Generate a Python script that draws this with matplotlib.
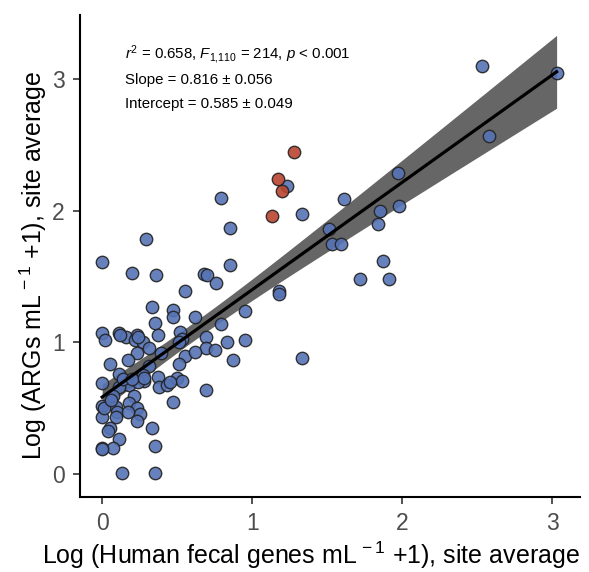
import numpy as np
import matplotlib.pyplot as plt

plt.rcParams['font.family'] = ['Liberation Sans', 'DejaVu Sans']
plt.rcParams['mathtext.fontset'] = 'custom'
plt.rcParams['mathtext.rm'] = 'Liberation Sans'
plt.rcParams['mathtext.it'] = 'Liberation Sans:italic'

# site averages, blue sites
x_blue = [3.03, 2.53, 2.58, 1.97, 1.98, 1.85, 1.84, 1.87, 1.91, 1.72,
          1.61, 1.51, 1.53, 1.59, 1.33, 1.23, 0.79, 0.85, 0.85, 0.68,
          0.70, 0.76, 1.18, 1.18, 0.95, 0.79, 0.69, 0.83, 0.95, 0.69,
          0.75, 0.87, 1.33, 0.29, 0.00, 0.20, 0.36, 0.55, 0.33, 0.47,
          0.47, 0.35, 0.62, 0.37, 0.00, 0.02, 0.11, 0.16, 0.23, 0.22,
          0.27, 0.52, 0.53, 0.51, 0.31, 0.39, 0.23, 0.55, 0.62, 0.05,
          0.17, 0.31, 0.51, 0.11, 0.00, 0.18, 0.18, 0.27, 0.28, 0.24,
          0.37, 0.38, 0.43, 0.50, 0.53, 0.69, 0.11, 0.07, 0.21, 0.00,
          0.09, 0.10, 0.18, 0.23, 0.25, 0.17, 0.23, 0.47, 0.00, 0.09,
          0.05, 0.04, 0.33, 0.11, 0.00, 0.07, 0.35, 0.13, 0.35,
          0.00, 0.01, 0.14, 0.20, 0.28, 0.12, 0.06, 0.24, 0.45]
y_blue = [3.05, 3.10, 2.57, 2.29, 2.04, 2.00, 1.90, 1.62, 1.48, 1.48,
          2.09, 1.86, 1.75, 1.75, 1.98, 2.19, 2.10, 1.87, 1.59, 1.52,
          1.51, 1.45, 1.39, 1.37, 1.24, 1.14, 1.04, 1.00, 1.02, 0.96,
          0.94, 0.87, 0.88, 1.79, 1.61, 1.53, 1.51, 1.39, 1.27, 1.25,
          1.19, 1.15, 1.19, 1.06, 1.07, 1.02, 1.07, 1.04, 1.06, 1.02,
          1.00, 1.08, 1.03, 1.00, 0.96, 0.92, 0.92, 0.90, 0.93, 0.84,
          0.87, 0.82, 0.84, 0.76, 0.69, 0.71, 0.68, 0.75, 0.71, 0.70,
          0.74, 0.66, 0.68, 0.73, 0.71, 0.64, 0.66, 0.59, 0.59, 0.52,
          0.51, 0.47, 0.54, 0.50, 0.46, 0.47, 0.40, 0.55, 0.43, 0.43,
          0.35, 0.33, 0.35, 0.27, 0.20, 0.20, 0.21, 0.01, 0.01,
          0.19, 0.50, 0.72, 0.72, 0.73, 1.06, 0.56, 1.04, 0.70]

# red sites
x_red = [1.28, 1.17, 1.20, 1.13]
y_red = [2.45, 2.24, 2.15, 1.96]

# reported model
slope, slope_se = 0.816, 0.056
icept, icept_se = 0.585, 0.049

x_all = np.array(x_blue + x_red)
xbar = x_all.mean()
xs = np.linspace(x_all.min(), x_all.max(), 200)
fit = icept + slope * xs
s2n = max(icept_se**2 - xbar**2 * slope_se**2, 1e-6)
se_fit = np.sqrt(s2n + (xs - xbar)**2 * slope_se**2)
tcrit = 1.98

fig = plt.figure(figsize=(5.89, 5.72), dpi=100)
ax = fig.add_axes([0.136, 0.131, 0.849, 0.843])

ax.fill_between(xs, fit - tcrit*se_fit, fit + tcrit*se_fit, color='#666666', lw=0, zorder=1)
ax.scatter(x_blue, y_blue, s=80, c='#5673B5', edgecolors='#222222', linewidths=1.0, alpha=0.9, zorder=2)
ax.scatter(x_red, y_red, s=80, c='#B8452F', edgecolors='#222222', linewidths=1.0, alpha=0.9, zorder=2)
ax.plot(xs, fit, color='black', lw=2.3, zorder=3)

ax.set_xlim(-0.147, 3.187)
ax.set_ylim(-0.175, 3.49)
ax.set_xticks([0, 1, 2, 3])
ax.set_yticks([0, 1, 2, 3])
for s in ['top', 'right']:
    ax.spines[s].set_visible(False)
for s in ['left', 'bottom']:
    ax.spines[s].set_linewidth(1.5)
ax.tick_params(labelsize=16.5, labelcolor='#4D4D4D', color='#333333', length=5, width=1.2, pad=6)

ax.set_xlabel(r'Log (Human fecal genes mL$^{\,-1}$ +1), site average', fontsize=18)
ax.xaxis.label.set_va('baseline')
ax.xaxis.set_label_coords(0.462, -0.138)
ax.set_ylabel(r'Log (ARGs mL$^{\,-1}$ +1), site average', fontsize=18)
ax.yaxis.set_label_coords(-0.062, 0.481)

ax.text(0.09, 0.917, r'$\mathit{r}^2$ = 0.658, $\mathit{F}_{1{,}110}$ = 214, $\mathit{p}$ < 0.001',
        transform=ax.transAxes, fontsize=10.8, va='center')
ax.text(0.09, 0.865, 'Slope = 0.816 ± 0.056', transform=ax.transAxes, fontsize=10.8, va='center')
ax.text(0.09, 0.815, 'Intercept = 0.585 ± 0.049', transform=ax.transAxes, fontsize=10.8, va='center')

plt.savefig('out.png', dpi=100)
